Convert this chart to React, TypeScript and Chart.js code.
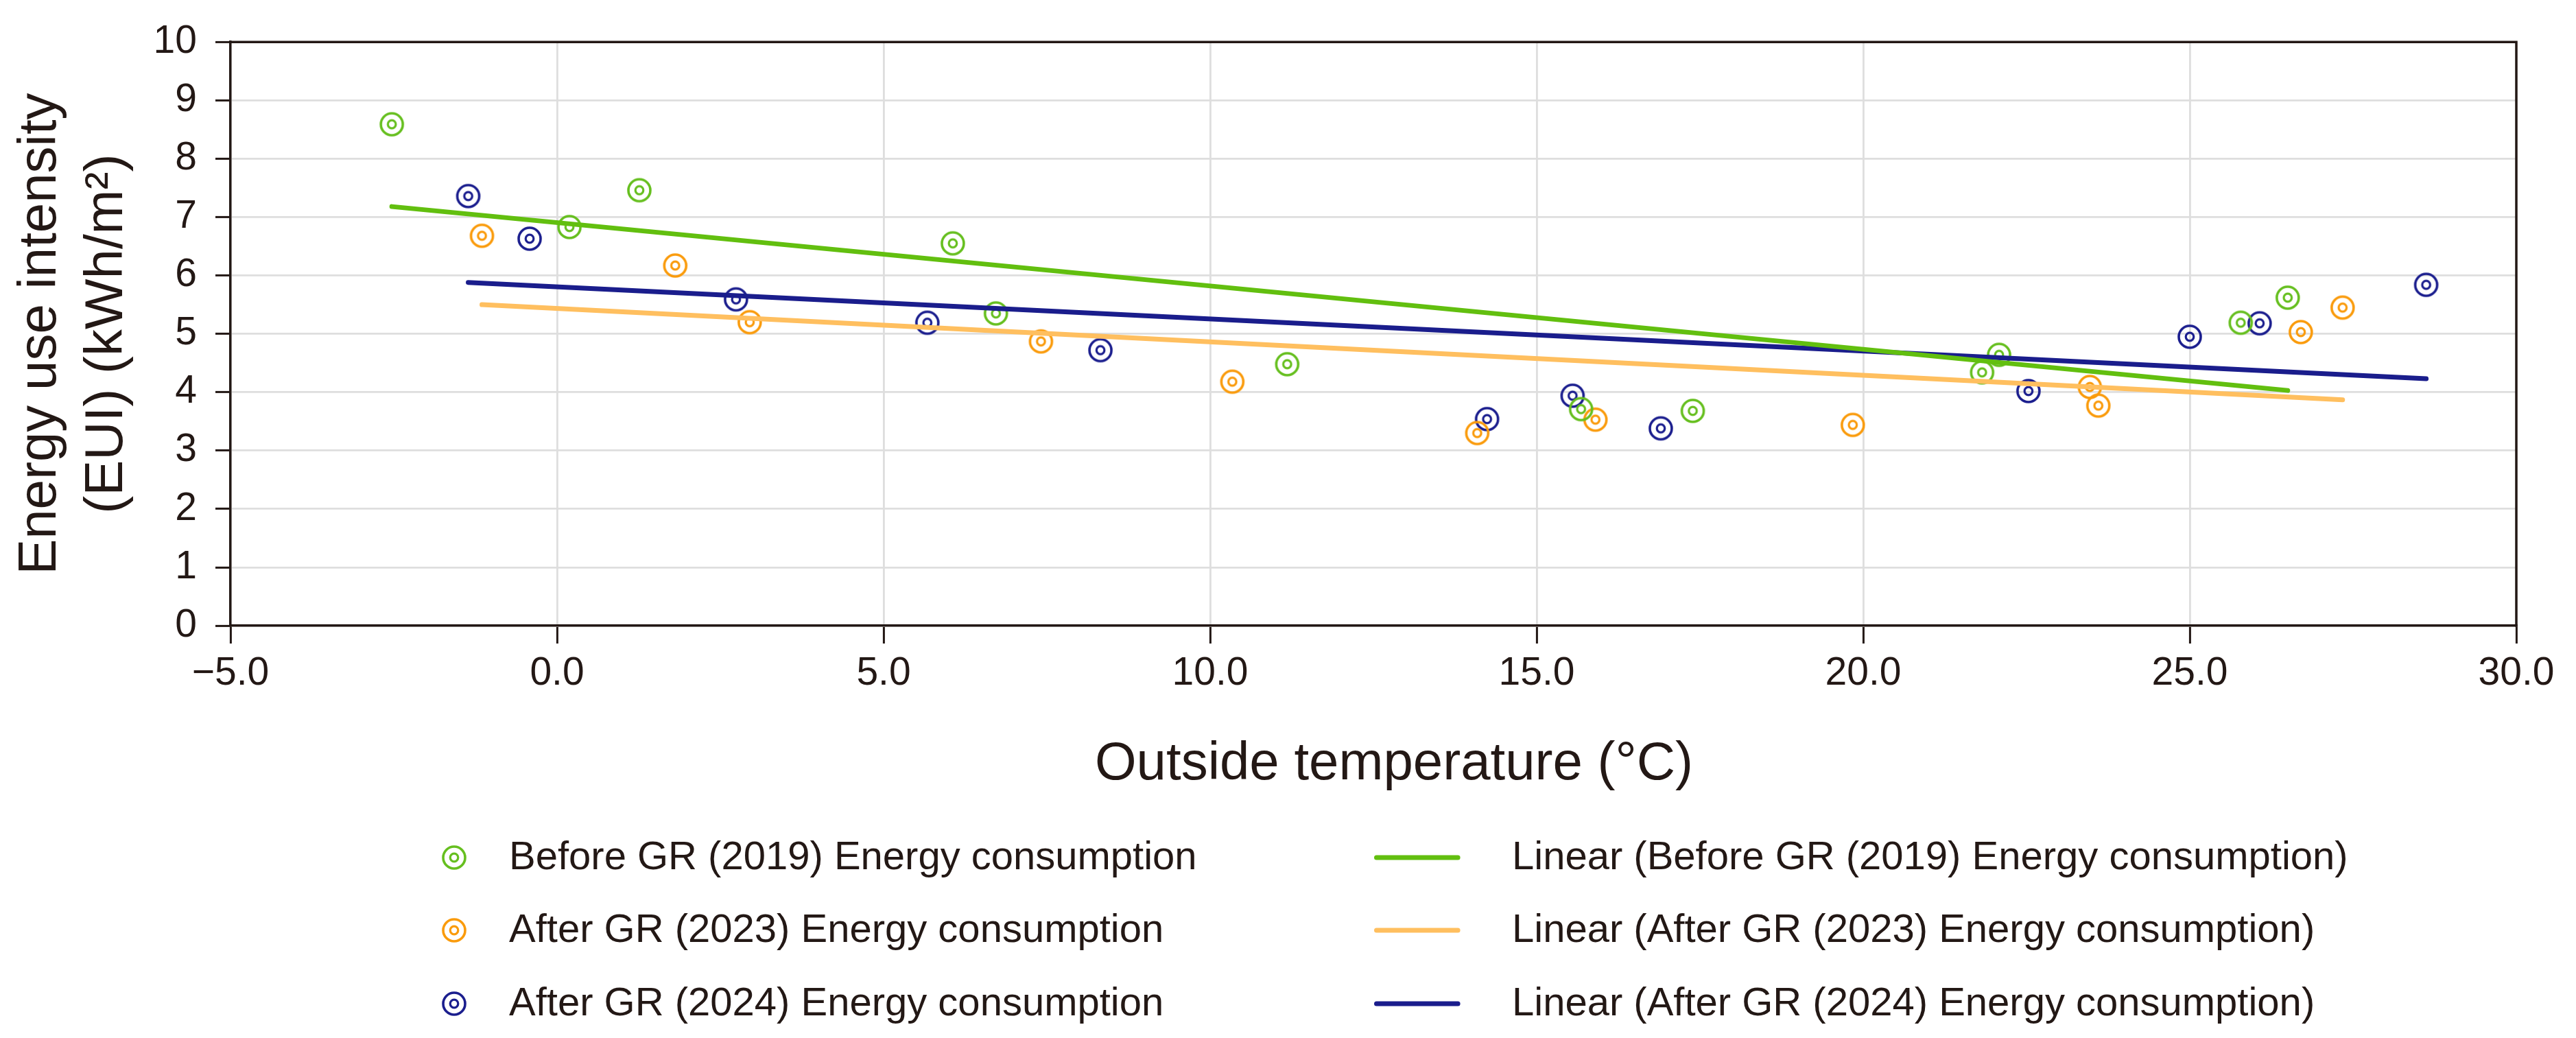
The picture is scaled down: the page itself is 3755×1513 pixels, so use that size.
import React, { useEffect, useRef } from "react";
import { Chart, registerables } from "chart.js";

Chart.register(...registerables);

const TEXT = "#231815";
const FONT = "'Liberation Sans', Arial, Helvetica, sans-serif";

// ---- data ----
const seriesNames = [
  "Before GR (2019) Energy consumption",
  "After GR (2023) Energy consumption",
  "After GR (2024) Energy consumption",
];
const trendNames = [
  "Linear (Before GR (2019) Energy consumption)",
  "Linear (After GR (2023) Energy consumption)",
  "Linear (After GR (2024) Energy consumption)",
];

const before2019Temp = [-2.53, 0.19, 1.26, 6.06, 6.72, 11.18, 15.68, 17.39, 21.82, 22.08, 25.78, 26.5];
const before2019EUI = [8.59, 6.83, 7.46, 6.55, 5.35, 4.48, 3.71, 3.68, 4.34, 4.64, 5.19, 5.62];

const after2023Temp = [-1.15, 1.81, 2.95, 7.41, 10.34, 14.09, 15.9, 19.84, 23.47, 23.6, 26.7, 27.34];
const after2023EUI = [6.68, 6.17, 5.2, 4.87, 4.18, 3.3, 3.53, 3.44, 4.09, 3.77, 5.03, 5.45];

const after2024Temp = [-1.36, -0.42, 2.74, 5.67, 8.32, 14.24, 15.55, 16.9, 22.53, 25.0, 26.07, 28.62];
const after2024EUI = [7.36, 6.63, 5.59, 5.19, 4.72, 3.54, 3.94, 3.38, 4.02, 4.95, 5.18, 5.84];

const trend2019Temp = [-2.53, 26.5];
const trend2019EUI = [7.18, 4.03];
const trend2023Temp = [-1.15, 27.34];
const trend2023EUI = [5.5, 3.87];
const trend2024Temp = [-1.36, 28.62];
const trend2024EUI = [5.88, 4.23];

const xTickValues = [-5, 0, 5, 10, 15, 20, 25, 30];
const yTickValues = [0, 1, 2, 3, 4, 5, 6, 7, 8, 9, 10];

const yTitle = ["Energy use intensity", "(EUI) (kWh/m\u00B2)"];
const xTitle = "Outside temperature (\u00B0C)";

const markerColors = ["#66bf1f", "#fa9b0c", "#1b1e8e"];
const trendColors = ["#62bf0f", "#ffbf5f", "#1a1d8c"];

const pts = (xs: number[], ys: number[]) => xs.map((x, i) => ({ x, y: ys[i] }));

function makeMarker(color: string): HTMLCanvasElement {
  const c = document.createElement("canvas");
  c.width = 40;
  c.height = 40;
  const g = c.getContext("2d")!;
  g.strokeStyle = color;
  g.lineWidth = 3.6;
  g.beginPath();
  g.arc(20, 20, 16, 0, Math.PI * 2);
  g.stroke();
  g.lineWidth = 3.2;
  g.beginPath();
  g.arc(20, 20, 5.8, 0, Math.PI * 2);
  g.stroke();
  return c;
}

const framePlugin = {
  id: "frame",
  afterDraw(chart: any) {
    const { ctx, chartArea } = chart;
    ctx.save();
    ctx.strokeStyle = TEXT;
    ctx.lineWidth = 3.5;
    ctx.lineCap = "square";
    ctx.beginPath();
    ctx.moveTo(chartArea.left, chartArea.top);
    ctx.lineTo(chartArea.right, chartArea.top);
    ctx.lineTo(chartArea.right, chartArea.bottom);
    ctx.stroke();
    ctx.restore();
  },
};

const fmtX = (v: number) => (v < 0 ? "\u2212" + Math.abs(v).toFixed(1) : v.toFixed(1));

export default function App() {
  const ref = useRef<HTMLCanvasElement>(null);

  useEffect(() => {
    document.body.style.margin = "0";
    document.body.style.overflow = "hidden";
    const scatterSets = [
      pts(before2019Temp, before2019EUI),
      pts(after2023Temp, after2023EUI),
      pts(after2024Temp, after2024EUI),
    ];
    const trendSets = [
      pts(trend2019Temp, trend2019EUI),
      pts(trend2023Temp, trend2023EUI),
      pts(trend2024Temp, trend2024EUI),
    ];
    const datasets: any[] = [];
    trendSets.forEach((d, i) => {
      datasets.push({
        label: trendNames[i],
        data: d,
        showLine: true,
        borderColor: trendColors[i],
        backgroundColor: trendColors[i],
        borderWidth: 7,
        borderCapStyle: "round",
        pointRadius: 0,
        pointHoverRadius: 0,
        order: 0,
      });
    });
    scatterSets.forEach((d, i) => {
      datasets.push({
        label: seriesNames[i],
        data: d,
        pointStyle: makeMarker(markerColors[i]),
        pointRadius: 16,
        borderColor: markerColors[i],
        backgroundColor: "transparent",
        order: 1,
      });
    });

    const gridCommon = {
      color: "#dedede",
      lineWidth: 2.8,
      tickColor: TEXT,
      tickWidth: 3,
    };

    const chart = new Chart(ref.current!, {
      type: "scatter",
      data: { datasets },
      options: {
        animation: false,
        responsive: false,
        events: [],
        layout: { padding: { left: 0, top: 57, right: 87, bottom: 493 } },
        plugins: { legend: { display: false }, tooltip: { enabled: false } },
        scales: {
          x: {
            type: "linear",
            min: -5,
            max: 30,
            afterBuildTicks: (s: any) => {
              s.ticks = xTickValues.map((v) => ({ value: v }));
            },
            afterFit: (s: any) => {
              s.height = 108;
            },
            grid: { ...gridCommon, tickLength: 26 },
            border: { color: TEXT, width: 3.5 },
            ticks: {
              color: TEXT,
              font: { family: FONT, size: 57 },
              padding: 10,
              maxRotation: 0,
              callback: (v: any) => fmtX(Number(v)),
            },
          },
          y: {
            type: "linear",
            min: 0,
            max: 10,
            afterBuildTicks: (s: any) => {
              s.ticks = yTickValues.map((v) => ({ value: v }));
            },
            afterFit: (s: any) => {
              s.width = 336;
            },
            grid: { ...gridCommon, tickLength: 22 },
            border: { color: TEXT, width: 3.5 },
            ticks: {
              color: TEXT,
              font: { family: FONT, size: 57 },
              padding: 27,
              callback: (v: any) => String(v),
            },
            title: {
              display: true,
              text: yTitle,
              color: TEXT,
              font: { family: FONT, size: 78, lineHeight: 97 / 78 },
              padding: { top: 11, bottom: 0 },
            },
          },
        },
      } as any,
      plugins: [framePlugin],
    });
    return () => chart.destroy();
  }, []);

  const rows = [1250, 1356, 1463];

  return (
    <div style={{ position: "absolute", left: 0, top: 0, width: 3755, height: 1513, background: "#fff" }}>
      <canvas ref={ref} width={3755} height={1513} style={{ display: "block", width: 3755, height: 1513 }} />
      <div
        style={{
          position: "absolute",
          left: 2032,
          top: 1108.6,
          transform: "translate(-50%, -50%)",
          font: `78px ${FONT}`,
          lineHeight: 1,
          color: TEXT,
          whiteSpace: "nowrap",
        }}
      >
        {xTitle}
      </div>
      {seriesNames.map((name, i) => (
        <React.Fragment key={name}>
          <svg width={40} height={40} style={{ position: "absolute", left: 642, top: rows[i] - 20 }}>
            <circle cx={20} cy={20} r={16} fill="none" stroke={markerColors[i]} strokeWidth={3.6} />
            <circle cx={20} cy={20} r={5.8} fill="none" stroke={markerColors[i]} strokeWidth={3.2} />
          </svg>
          <div
            style={{
              position: "absolute",
              left: 742,
              top: rows[i] - 3,
              transform: "translateY(-50%)",
              font: `58px ${FONT}`,
              lineHeight: 1,
              color: TEXT,
              whiteSpace: "nowrap",
            }}
          >
            {name}
          </div>
          <svg width={140} height={20} style={{ position: "absolute", left: 1996, top: rows[i] - 10 }}>
            <line x1={10.5} y1={10} x2={129.1} y2={10} stroke={trendColors[i]} strokeWidth={7} strokeLinecap="round" />
          </svg>
          <div
            style={{
              position: "absolute",
              left: 2204,
              top: rows[i] - 3,
              transform: "translateY(-50%)",
              font: `58px ${FONT}`,
              lineHeight: 1,
              color: TEXT,
              whiteSpace: "nowrap",
            }}
          >
            {trendNames[i]}
          </div>
        </React.Fragment>
      ))}
    </div>
  );
}
